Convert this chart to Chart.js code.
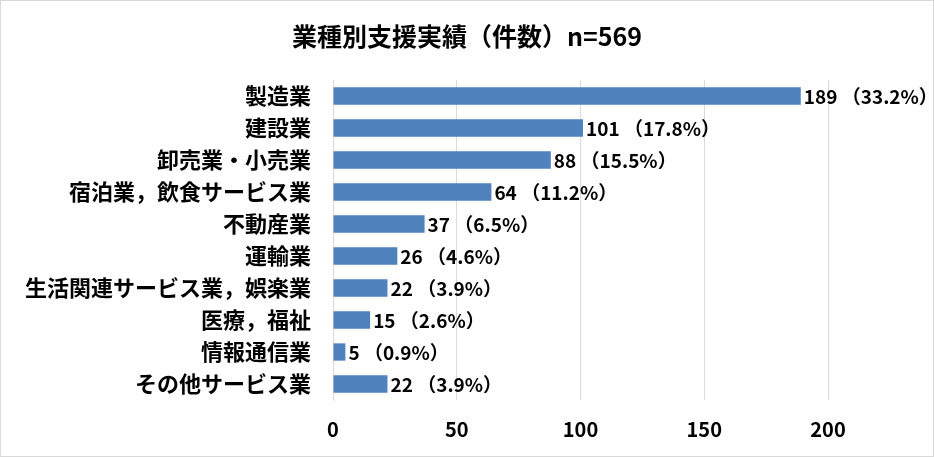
<!DOCTYPE html>
<html lang="ja">
<head>
    <meta charset="UTF-8">
    <title>業種別支援実績</title>
    <script src="https://cdn.jsdelivr.net/npm/chart.js"></script>
    <style>
        body { margin: 0; background-color: #fff; }
        canvas { display: block; }
    </style>
</head>
<body>
    <canvas id="gyoshuChart" width="934" height="457"></canvas>

    <script>
        const FONT = '"Noto Sans CJK JP", "Noto Sans", sans-serif';

        const categories = [
            '製造業', '建設業', '卸売業・小売業', '宿泊業，飲食サービス業', '不動産業',
            '運輸業', '生活関連サービス業，娯楽業', '医療，福祉', '情報通信業', 'その他サービス業'
        ];
        const counts = [189, 101, 88, 64, 37, 26, 22, 15, 5, 22];
        const percents = ['33.2%', '17.8%', '15.5%', '11.2%', '6.5%', '4.6%', '3.9%', '2.6%', '0.9%', '3.9%'];
        const xTicks = [0, 50, 100, 150, 200];

        // 枠線と背景
        const framePlugin = {
            id: 'frame',
            beforeDraw(chart) {
                const ctx = chart.ctx;
                ctx.save();
                ctx.fillStyle = '#ffffff';
                ctx.fillRect(0, 0, chart.width, chart.height);
                ctx.strokeStyle = '#d9d9d9';
                ctx.lineWidth = 1;
                ctx.strokeRect(0.5, 0.5, chart.width - 1, chart.height - 1);
                ctx.restore();
            }
        };

        // バーの右に「件数 （割合）」を表示
        const valueLabels = {
            id: 'valueLabels',
            afterDatasetsDraw(chart) {
                const ctx = chart.ctx;
                const meta = chart.getDatasetMeta(0);
                ctx.save();
                ctx.font = 'bold 19px ' + FONT;
                ctx.fillStyle = '#000';
                ctx.textAlign = 'left';
                ctx.textBaseline = 'middle';
                meta.data.forEach((bar, i) => {
                    ctx.fillText(counts[i] + ' （' + percents[i] + '）', bar.x + 3, bar.y + 1);
                });
                ctx.restore();
            }
        };

        new Chart(document.getElementById('gyoshuChart'), {
            type: 'bar',
            data: {
                labels: categories,
                datasets: [{
                    data: counts,
                    backgroundColor: '#4f81bd',
                    barPercentage: 0.54,
                    categoryPercentage: 1.0
                }]
            },
            options: {
                indexAxis: 'y',
                responsive: false,
                animation: false,
                layout: { padding: 0 },
                scales: {
                    x: {
                        min: 0,
                        max: 200,
                        afterBuildTicks: axis => { axis.ticks = xTicks.map(v => ({ value: v })); },
                        afterFit: axis => { axis.height = 57; },
                        grid: { color: '#d9d9d9', lineWidth: 1, drawTicks: false },
                        border: { display: false },
                        ticks: {
                            padding: 17,
                            color: '#000',
                            font: { family: FONT, size: 20, weight: 'bold' }
                        }
                    },
                    y: {
                        afterFit: axis => { axis.width = 333; },
                        grid: { display: false, drawTicks: false },
                        border: { display: true, color: '#d9d9d9', width: 1 },
                        ticks: {
                            padding: 22,
                            color: '#000',
                            font: { family: FONT, size: 22, weight: 'bold' }
                        }
                    },
                    // 右側の余白（データラベル用）
                    yRight: {
                        type: 'linear',
                        position: 'right',
                        afterFit: axis => { axis.width = 106; },
                        grid: { display: false, drawTicks: false },
                        border: { display: false },
                        ticks: { display: false }
                    }
                },
                plugins: {
                    legend: { display: false },
                    tooltip: { enabled: false },
                    title: {
                        display: true,
                        text: '業種別支援実績（件数）n=569',
                        color: '#000',
                        font: { family: FONT, size: 25, weight: 'bold', lineHeight: 1.2 },
                        padding: { top: 21, bottom: 29 }
                    }
                }
            },
            plugins: [framePlugin, valueLabels]
        });
    </script>
</body>
</html>
